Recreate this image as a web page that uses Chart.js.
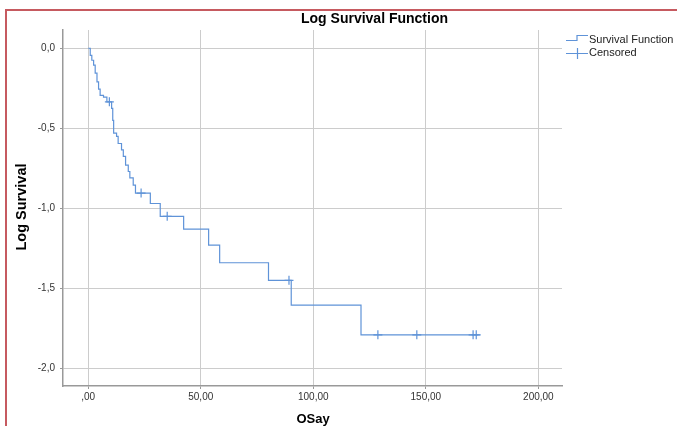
<!DOCTYPE html>
<html>
<head>
<meta charset="utf-8">
<script src="https://cdn.jsdelivr.net/npm/chart.js@4"></script>
<style>
  html, body { margin: 0; padding: 0; background: #fff; }
  #wrap { position: relative; width: 677px; height: 426px; overflow: hidden; }
  #frame { position: absolute; left: 5px; top: 9px; width: 800px; height: 600px;
           border-top: 2px solid #c65a60; border-left: 2px solid #c65a60; pointer-events: none; }
</style>
</head>
<body>
<div id="wrap">
  <canvas id="chart" width="677" height="426"></canvas>
  <div id="frame"></div>
</div>
<script>
// step curve: time of each drop and log survival after it
const stepTimes = [0, 0.9, 1.6, 2.4, 3.1, 3.9, 4.6, 5.3, 6.8, 8.3, 10.4, 10.9, 11.3, 12.6, 13.3,
    14.8, 15.6, 16.6, 17.8, 18.5, 20.0, 21.0, 27.6, 32.0, 42.4, 53.5, 58.4, 80.1, 90.2, 121.2, 174.0];
const stepLogSurv = [0, -0.045, -0.075, -0.105, -0.155, -0.21, -0.255, -0.295, -0.305, -0.335, -0.375, -0.45, -0.53, -0.55, -0.595,
    -0.635, -0.675, -0.73, -0.77, -0.81, -0.855, -0.905, -0.97, -1.05, -1.13, -1.23, -1.34, -1.45, -1.605, -1.79, -1.79];

// censored cases
const censoredTimes = [9.4, 23.5, 35.1, 89.2, 128.7, 146.0, 171.0, 172.4];
const censoredLogSurv = [-0.335, -0.905, -1.05, -1.45, -1.79, -1.79, -1.79, -1.79];

const xTickValues = [0, 50, 100, 150, 200];
const xTickLabels = [',00', '50,00', '100,00', '150,00', '200,00'];
const yTickValues = [0, -0.5, -1, -1.5, -2];
const yTickLabels = ['0,0', '-0,5', '-1,0', '-1,5', '-2,0'];

const lineColor = '#5f93d8';

const stepPoints = stepTimes.map((t, i) => ({ x: t, y: stepLogSurv[i] }));
const censoredPoints = censoredTimes.map((t, i) => ({ x: t, y: censoredLogSurv[i] }));

// titles and legend, drawn like SPSS does
const decorations = {
    id: 'decorations',
    afterDraw(chart) {
        const ctx = chart.ctx;
        ctx.save();
        ctx.fillStyle = '#000';
        ctx.textBaseline = 'middle';

        ctx.font = 'bold 14px "Liberation Sans", Arial, sans-serif';
        ctx.textAlign = 'center';
        ctx.fillText('Log Survival Function', 374.5, 19);

        // y title, stretched to the original length
        ctx.save();
        ctx.translate(22, 207);
        ctx.rotate(-Math.PI / 2);
        const w = ctx.measureText('Log Survival').width;
        ctx.scale(87 / w, 1);
        ctx.fillText('Log Survival', 0, 0);
        ctx.restore();

        ctx.font = 'bold 13px "Liberation Sans", Arial, sans-serif';
        ctx.textBaseline = 'alphabetic';
        ctx.fillText('OSay', 313, 423);

        // legend
        ctx.strokeStyle = lineColor;
        ctx.lineWidth = 1.2;
        ctx.beginPath();
        ctx.moveTo(566, 40.5);
        ctx.lineTo(577, 40.5);
        ctx.lineTo(577, 35.5);
        ctx.lineTo(588, 35.5);
        ctx.stroke();
        ctx.beginPath();
        ctx.moveTo(566, 53.5);
        ctx.lineTo(588, 53.5);
        ctx.moveTo(577.5, 48);
        ctx.lineTo(577.5, 59);
        ctx.stroke();

        ctx.font = '11px "Liberation Sans", Arial, sans-serif';
        ctx.fillStyle = '#222';
        ctx.textAlign = 'left';
        ctx.textBaseline = 'middle';
        ctx.fillText('Survival Function', 589, 40);
        ctx.fillText('Censored', 589, 53);
        ctx.restore();
    }
};

const ctx = document.getElementById('chart').getContext('2d');
new Chart(ctx, {
    type: 'scatter',
    data: {
        datasets: [{
            label: 'Survival Function',
            data: stepPoints,
            showLine: true,
            stepped: 'before',
            borderColor: lineColor,
            borderWidth: 1.2,
            pointRadius: 0,
            fill: false
        }, {
            label: 'Censored',
            data: censoredPoints,
            showLine: false,
            pointStyle: 'cross',
            pointRadius: 4.5,
            borderColor: lineColor,
            backgroundColor: lineColor,
            pointBorderWidth: 1.2
        }]
    },
    options: {
        responsive: false,
        animation: false,
        events: [],
        layout: { padding: { left: 0, right: 115, top: 30, bottom: 0 } },
        plugins: {
            legend: { display: false },
            title: { display: false },
            tooltip: { enabled: false }
        },
        scales: {
            x: {
                type: 'linear',
                min: -11.2,
                max: 210.5,
                afterBuildTicks: s => { s.ticks = xTickValues.map(v => ({ value: v })); },
                afterFit: s => { s.height = 40; },
                grid: { color: '#cccccc', lineWidth: 1, tickLength: 3, tickColor: '#999' },
                border: { color: '#999', width: 1.5 },
                ticks: {
                    padding: 2,
                    color: '#333',
                    font: { family: '"Liberation Sans", Arial, sans-serif', size: 10 },
                    maxRotation: 0,
                    callback: v => xTickLabels[xTickValues.indexOf(v)]
                }
            },
            y: {
                type: 'linear',
                min: -2.11,
                max: 0.114,
                afterBuildTicks: s => { s.ticks = yTickValues.map(v => ({ value: v })); },
                afterFit: s => { s.width = 63; },
                grid: { color: '#cccccc', lineWidth: 1, tickLength: 3, tickColor: '#999' },
                border: { color: '#999', width: 1.5 },
                ticks: {
                    padding: 5,
                    color: '#333',
                    font: { family: '"Liberation Sans", Arial, sans-serif', size: 10 },
                    callback: v => yTickLabels[yTickValues.indexOf(v)]
                }
            }
        }
    },
    plugins: [decorations]
});
</script>
</body>
</html>
